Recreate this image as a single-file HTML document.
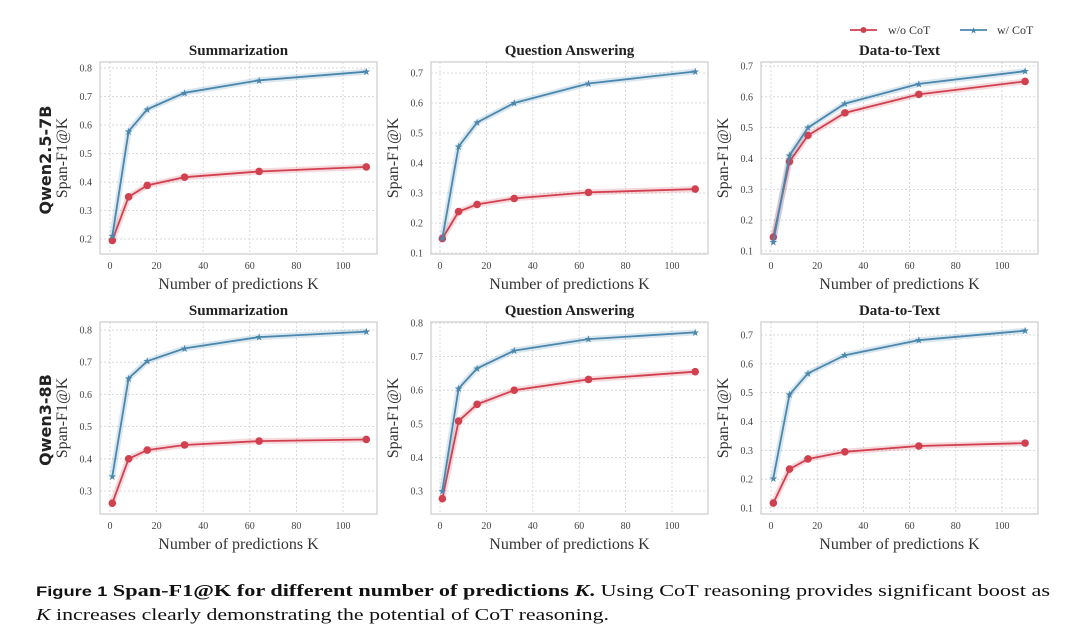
<!DOCTYPE html>
<html><head><meta charset="utf-8"><style>
body{margin:0;background:#fff;}
svg{display:block;font-family:"Liberation Serif",serif;}
</style></head><body>
<svg id="fig" width="1080" height="633" viewBox="0 0 1080 633">
<g id="legend">
<g>
<line x1="850" y1="30" x2="877" y2="30" stroke="#d1404f" stroke-width="1.8"/>
<circle cx="863.5" cy="30" r="3" fill="#d1404f"/>
<text x="888" y="34" font-size="12" fill="#333">w/o CoT</text></g>
<g>
<line x1="960" y1="30" x2="987" y2="30" stroke="#4a87ad" stroke-width="1.8"/>
<text x="973.5" y="33.5" font-size="9" fill="#4a87ad" text-anchor="middle">★</text>
<text x="997" y="34" font-size="12" fill="#333">w/ CoT</text></g>
</g>
<text x="51" y="160" transform="rotate(-90 51 160)" text-anchor="middle" font-family="'DejaVu Sans',sans-serif" font-weight="bold" font-size="16" fill="#222">Qwen2.5-7B</text>
<text x="51" y="420" transform="rotate(-90 51 420)" text-anchor="middle" font-family="'DejaVu Sans',sans-serif" font-weight="bold" font-size="16" fill="#222">Qwen3-8B</text>
<text x="36" y="596" font-size="17" fill="#111" textLength="1014" lengthAdjust="spacingAndGlyphs"><tspan font-family="'Liberation Sans',sans-serif" font-weight="bold" font-size="14">Figure 1</tspan> <tspan font-weight="bold">Span-F1@K for different number of predictions <tspan font-style="italic">K</tspan>.</tspan> Using CoT reasoning provides significant boost as</text>
<text x="36" y="620" font-size="17" fill="#111" textLength="573" lengthAdjust="spacingAndGlyphs"><tspan font-style="italic">K</tspan> increases clearly demonstrating the potential of CoT reasoning.</text>
</svg>
<script>
const kValues=[1,8,16,32,64,110];
const xTicks=[0,20,40,60,80,100];
const titles=["Summarization","Question Answering","Data-to-Text","Summarization","Question Answering","Data-to-Text"];
const woCot1=[0.195,0.348,0.388,0.417,0.437,0.453];
const wCot1=[0.21,0.578,0.655,0.713,0.757,0.787];
const woCot2=[0.148,0.238,0.262,0.282,0.302,0.313];
const wCot2=[0.148,0.455,0.535,0.600,0.665,0.705];
const woCot3=[0.145,0.39,0.475,0.548,0.608,0.65];
const wCot3=[0.13,0.41,0.50,0.578,0.642,0.683];
const woCot4=[0.262,0.400,0.427,0.443,0.455,0.460];
const wCot4=[0.345,0.65,0.703,0.743,0.778,0.795];
const woCot5=[0.277,0.508,0.558,0.600,0.632,0.655];
const wCot5=[0.30,0.605,0.665,0.718,0.752,0.772];
const woCot6=[0.117,0.235,0.27,0.295,0.315,0.325];
const wCot6=[0.203,0.493,0.567,0.630,0.682,0.715];
const yTicks1=[0.2,0.3,0.4,0.5,0.6,0.7,0.8];
const yTicks2=[0.1,0.2,0.3,0.4,0.5,0.6,0.7];
const yTicks3=[0.1,0.2,0.3,0.4,0.5,0.6,0.7];
const yTicks4=[0.3,0.4,0.5,0.6,0.7,0.8];
const yTicks5=[0.3,0.4,0.5,0.6,0.7,0.8];
const yTicks6=[0.1,0.2,0.3,0.4,0.5,0.6,0.7];

const NS="http://www.w3.org/2000/svg";
const svg=document.getElementById('fig');
function mk(tag,attrs,parent){const e=document.createElementNS(NS,tag);for(const k in attrs)e.setAttribute(k,attrs[k]);parent.appendChild(e);return e;}
const layout=[
 {bx:100,by:62,bw:277,bh:192,x0:110,x100:343,yl:[0.2,239],yh:[0.8,68]},
 {bx:431,by:62,bw:277,bh:192,x0:440,x100:672,yl:[0.1,253],yh:[0.7,73]},
 {bx:761,by:62,bw:277,bh:192,x0:771,x100:1002,yl:[0.1,251],yh:[0.7,66]},
 {bx:100,by:322,bw:277,bh:192,x0:110,x100:343,yl:[0.3,491],yh:[0.8,330]},
 {bx:431,by:322,bw:277,bh:192,x0:440,x100:672,yl:[0.3,491],yh:[0.8,323]},
 {bx:761,by:322,bw:277,bh:192,x0:771,x100:1002,yl:[0.1,508],yh:[0.7,335]}
];
const wo=[woCot1,woCot2,woCot3,woCot4,woCot5,woCot6];
const wc=[wCot1,wCot2,wCot3,wCot4,wCot5,wCot6];
const yt=[yTicks1,yTicks2,yTicks3,yTicks4,yTicks5,yTicks6];
layout.forEach((L,i)=>{
 const g=mk('g',{},svg);
 
 
 const xs=v=>L.x0+(L.x100-L.x0)*v/100;
 const ys=v=>L.yl[1]+(L.yh[1]-L.yl[1])*(v-L.yl[0])/(L.yh[0]-L.yl[0]);
 const frame=mk('rect',{x:L.bx,y:L.by,width:L.bw,height:L.bh,fill:'#fff',stroke:'#d6d6d6','stroke-width':1.5},g);
 
 
 xTicks.forEach(t=>{
  mk('line',{x1:xs(t),x2:xs(t),y1:L.by,y2:L.by+L.bh,stroke:'#d0d0d0','stroke-width':0.8,'stroke-dasharray':'2,2'},g);
  const tx=mk('text',{x:xs(t),y:L.by+L.bh+15,'font-size':10,fill:'#444','text-anchor':'middle'},g);
  tx.textContent=t;
  
  
 });
 yt[i].forEach(t=>{
  mk('line',{x1:L.bx,x2:L.bx+L.bw,y1:ys(t),y2:ys(t),stroke:'#d0d0d0','stroke-width':0.8,'stroke-dasharray':'2,2'},g);
  const tx=mk('text',{x:L.bx-8,y:ys(t)+3.5,'font-size':10,fill:'#444','text-anchor':'end'},g);
  tx.textContent=t.toFixed(1);
  
  
 });
 const ti=mk('text',{x:L.bx+L.bw/2,y:L.by-7,'font-size':15,'font-weight':'bold',fill:'#222','text-anchor':'middle'},g);
 ti.textContent=titles[i];
 
 
 const xl=mk('text',{x:L.bx+L.bw/2,y:L.by+L.bh+35,'font-size':16,fill:'#333','text-anchor':'middle'},g);
 xl.textContent='Number of predictions K';
 
 
 const yx=L.bx-33, yy=L.by+L.bh/2;
 const yl=mk('text',{x:yx,y:yy,'font-size':16,fill:'#333','text-anchor':'middle',transform:`rotate(-90 ${yx} ${yy})`},g);
 yl.textContent='Span-F1@K';
 
 
 [[wo[i],'#d1404f','wo-cot'],[wc[i],'#4a87ad','w-cot']].forEach(([vals,col,nm])=>{
  const pts=vals.map((v,j)=>xs(kValues[j]).toFixed(1)+','+ys(v).toFixed(1)).join(' ');
  mk('polyline',{points:pts,fill:'none',stroke:col,'stroke-opacity':0.2,'stroke-width':6,'stroke-linejoin':'round'},g);
  const pl=mk('polyline',{points:pts,fill:'none',stroke:col,'stroke-width':1.8},g);
  
  
  vals.forEach((v,j)=>{
   let m;
   if(nm==='wo-cot'){m=mk('circle',{cx:xs(kValues[j]),cy:ys(v),r:3.8,fill:col},g);}
   else{m=mk('text',{x:xs(kValues[j]),y:ys(v)+3.5,'font-size':10,fill:col,'text-anchor':'middle'},g);m.textContent='★';}
   
   
  });
 });
});
</script>
</body></html>
